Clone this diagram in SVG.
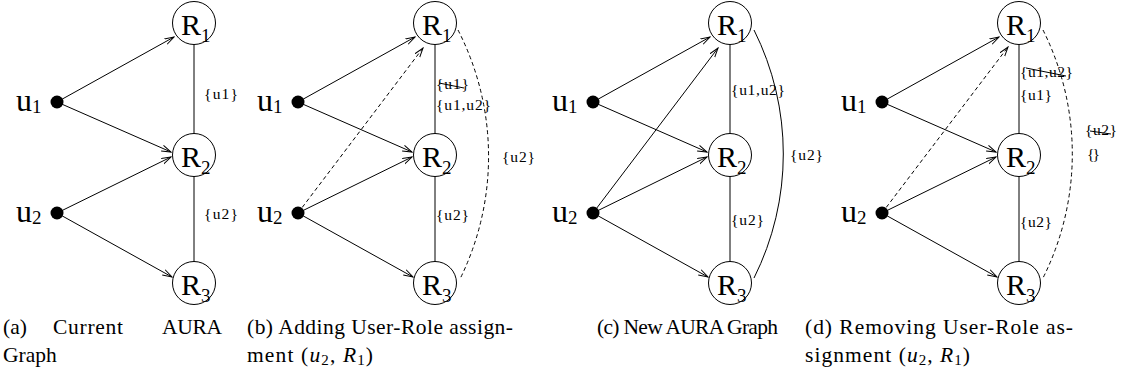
<svg xmlns="http://www.w3.org/2000/svg" width="1122" height="374" viewBox="0 0 1122 374">
<style>
.role{fill:#fff;stroke:#000;stroke-width:1}
.rl{font-family:"Liberation Serif",serif;font-size:30px;fill:#000}
.sub{font-size:19px}
.ul{font-family:"Liberation Serif",serif;font-size:32px;fill:#000}
.dot{fill:#000}
.edge{stroke:#000;stroke-width:1;fill:none}
.dash{stroke-dasharray:4 3}
.lbl{font-family:"Liberation Serif",serif;font-size:15.5px;fill:#000}
.cap{font-family:"Liberation Serif",serif;font-size:21.5px;fill:#000}
.msub{font-size:15px}
</style>
<defs>
<marker id="ah" markerWidth="11" markerHeight="8" refX="9.5" refY="3.5" orient="auto" markerUnits="userSpaceOnUse">
<path d="M0,0.5 L9.5,3.5 L0,6.5" fill="none" stroke="#000" stroke-width="1"/>
</marker>
</defs>

<!-- Panel (a) -->
<g id="panel-a">
<g id="a-connectors">
<line class="edge" x1="57" y1="102" x2="174" y2="37" marker-end="url(#ah)"/>
<line class="edge" x1="57" y1="102" x2="171" y2="152" marker-end="url(#ah)"/>
<line class="edge" x1="57" y1="213" x2="171" y2="157" marker-end="url(#ah)"/>
<line class="edge" x1="57" y1="213" x2="172" y2="277" marker-end="url(#ah)"/>
<line class="edge" x1="194" y1="42" x2="194" y2="135"/>
<line class="edge" x1="194" y1="176" x2="194" y2="263"/>
<text class="lbl" x="204" y="99" textLength="34" lengthAdjust="spacing">{u1}</text>
<text class="lbl" x="204" y="219" textLength="34" lengthAdjust="spacing">{u2}</text>
</g>
<g id="a-u1"><circle class="dot" cx="57" cy="102" r="6.5"/><text class="ul" x="16" y="111">u<tspan class="sub" dy="2">1</tspan></text></g>
<g id="a-u2"><circle class="dot" cx="57" cy="213" r="6.5"/><text class="ul" x="16" y="222">u<tspan class="sub" dy="2">2</tspan></text></g>
<g id="a-R1"><circle class="role" cx="194" cy="23" r="21.5"/><text class="rl" x="181" y="35">R<tspan class="sub" dy="7">1</tspan></text></g>
<g id="a-R2"><circle class="role" cx="194" cy="155" r="21.5"/><text class="rl" x="181" y="167">R<tspan class="sub" dy="7">2</tspan></text></g>
<g id="a-R3"><circle class="role" cx="194" cy="283" r="21.5"/><text class="rl" x="181" y="295">R<tspan class="sub" dy="7">3</tspan></text></g>
</g>

<!-- Panel (b) -->
<g id="panel-b" transform="translate(241,0)">
<g id="b-connectors">
<line class="edge" x1="57" y1="102" x2="174" y2="37" marker-end="url(#ah)"/>
<line class="edge" x1="57" y1="102" x2="171" y2="152" marker-end="url(#ah)"/>
<line class="edge" x1="57" y1="213" x2="171" y2="157" marker-end="url(#ah)"/>
<line class="edge" x1="57" y1="213" x2="172" y2="277" marker-end="url(#ah)"/>
<line class="edge dash" x1="57" y1="213" x2="182" y2="48" marker-end="url(#ah)"/>
<line class="edge" x1="194" y1="42" x2="194" y2="135"/>
<line class="edge" x1="194" y1="176" x2="194" y2="263"/>
<path class="edge dash" d="M217,30 A277,277 0 0 1 219,279"/>
<text class="lbl" x="195" y="89" textLength="33" lengthAdjust="spacing">{u1}</text>
<line class="edge" x1="198" y1="83" x2="223" y2="88"/>
<text class="lbl" x="195" y="110" textLength="55" lengthAdjust="spacing">{u1,u2}</text>
<text class="lbl" x="261" y="162" textLength="33" lengthAdjust="spacing">{u2}</text>
<text class="lbl" x="195" y="220" textLength="33" lengthAdjust="spacing">{u2}</text>
</g>
<g id="b-u1"><circle class="dot" cx="57" cy="102" r="6.5"/><text class="ul" x="16" y="111">u<tspan class="sub" dy="2">1</tspan></text></g>
<g id="b-u2"><circle class="dot" cx="57" cy="213" r="6.5"/><text class="ul" x="16" y="222">u<tspan class="sub" dy="2">2</tspan></text></g>
<g id="b-R1"><circle class="role" cx="194" cy="23" r="21.5"/><text class="rl" x="181" y="35">R<tspan class="sub" dy="7">1</tspan></text></g>
<g id="b-R2"><circle class="role" cx="194" cy="155" r="21.5"/><text class="rl" x="181" y="167">R<tspan class="sub" dy="7">2</tspan></text></g>
<g id="b-R3"><circle class="role" cx="194" cy="283" r="21.5"/><text class="rl" x="181" y="295">R<tspan class="sub" dy="7">3</tspan></text></g>
</g>

<!-- Panel (c) -->
<g id="panel-c" transform="translate(536,0)">
<g id="c-connectors">
<line class="edge" x1="57" y1="102" x2="174" y2="37" marker-end="url(#ah)"/>
<line class="edge" x1="57" y1="102" x2="171" y2="152" marker-end="url(#ah)"/>
<line class="edge" x1="57" y1="213" x2="171" y2="157" marker-end="url(#ah)"/>
<line class="edge" x1="57" y1="213" x2="172" y2="277" marker-end="url(#ah)"/>
<line class="edge" x1="57" y1="213" x2="182" y2="48" marker-end="url(#ah)"/>
<line class="edge" x1="194" y1="42" x2="194" y2="135"/>
<line class="edge" x1="194" y1="176" x2="194" y2="263"/>
<path class="edge" d="M218,30 A277,277 0 0 1 218,278"/>
<text class="lbl" x="195" y="95" textLength="54" lengthAdjust="spacing">{u1,u2}</text>
<text class="lbl" x="254" y="160" textLength="33" lengthAdjust="spacing">{u2}</text>
<text class="lbl" x="195" y="225" textLength="33" lengthAdjust="spacing">{u2}</text>
</g>
<g id="c-u1"><circle class="dot" cx="57" cy="102" r="6.5"/><text class="ul" x="16" y="111">u<tspan class="sub" dy="2">1</tspan></text></g>
<g id="c-u2"><circle class="dot" cx="57" cy="213" r="6.5"/><text class="ul" x="16" y="222">u<tspan class="sub" dy="2">2</tspan></text></g>
<g id="c-R1"><circle class="role" cx="194" cy="23" r="21.5"/><text class="rl" x="181" y="35">R<tspan class="sub" dy="7">1</tspan></text></g>
<g id="c-R2"><circle class="role" cx="194" cy="155" r="21.5"/><text class="rl" x="181" y="167">R<tspan class="sub" dy="7">2</tspan></text></g>
<g id="c-R3"><circle class="role" cx="194" cy="283" r="21.5"/><text class="rl" x="181" y="295">R<tspan class="sub" dy="7">3</tspan></text></g>
</g>

<!-- Panel (d) -->
<g id="panel-d" transform="translate(825,0)">
<g id="d-connectors">
<line class="edge" x1="57" y1="102" x2="174" y2="37" marker-end="url(#ah)"/>
<line class="edge" x1="57" y1="102" x2="171" y2="152" marker-end="url(#ah)"/>
<line class="edge" x1="57" y1="213" x2="171" y2="157" marker-end="url(#ah)"/>
<line class="edge" x1="57" y1="213" x2="172" y2="277" marker-end="url(#ah)"/>
<line class="edge dash" x1="57" y1="213" x2="183" y2="47" marker-end="url(#ah)"/>
<line class="edge" x1="194" y1="42" x2="194" y2="135"/>
<line class="edge" x1="194" y1="176" x2="194" y2="263"/>
<path class="edge dash" d="M218,30 A277,277 0 0 1 218,278"/>
<text class="lbl" x="195" y="77" textLength="53" lengthAdjust="spacing">{u1,u2}</text>
<line class="edge" x1="201" y1="68" x2="241" y2="76"/>
<text class="lbl" x="195" y="100" textLength="32" lengthAdjust="spacing">{u1}</text>
<text class="lbl" x="260" y="135" textLength="32" lengthAdjust="spacing">{u2}</text>
<line class="edge" x1="265" y1="131" x2="286" y2="134"/>
<text class="lbl" x="262" y="159" textLength="13" lengthAdjust="spacing">{}</text>
<text class="lbl" x="195" y="227" textLength="32" lengthAdjust="spacing">{u2}</text>
</g>
<g id="d-u1"><circle class="dot" cx="57" cy="102" r="6.5"/><text class="ul" x="16" y="111">u<tspan class="sub" dy="2">1</tspan></text></g>
<g id="d-u2"><circle class="dot" cx="57" cy="213" r="6.5"/><text class="ul" x="16" y="222">u<tspan class="sub" dy="2">2</tspan></text></g>
<g id="d-R1"><circle class="role" cx="194" cy="23" r="21.5"/><text class="rl" x="181" y="35">R<tspan class="sub" dy="7">1</tspan></text></g>
<g id="d-R2"><circle class="role" cx="194" cy="155" r="21.5"/><text class="rl" x="181" y="167">R<tspan class="sub" dy="7">2</tspan></text></g>
<g id="d-R3"><circle class="role" cx="194" cy="283" r="21.5"/><text class="rl" x="181" y="295">R<tspan class="sub" dy="7">3</tspan></text></g>
</g>

<!-- Captions -->
<g id="captions">
<text class="cap" x="3" y="334">(a)</text>
<text class="cap" x="53" y="334" textLength="70" lengthAdjust="spacing">Current</text>
<text class="cap" x="162" y="334" textLength="60" lengthAdjust="spacing">AURA</text>
<text class="cap" x="3" y="362">Graph</text>
<text class="cap" x="247" y="334" textLength="266" lengthAdjust="spacing">(b) Adding User-Role assign-</text>
<text class="cap" x="247" y="362" textLength="126" lengthAdjust="spacing">ment (<tspan font-style="italic">u</tspan><tspan class="msub" dy="3">2</tspan><tspan dy="-3">, </tspan><tspan font-style="italic">R</tspan><tspan class="msub" dy="3">1</tspan><tspan dy="-3">)</tspan></text>
<text class="cap" x="597" y="334" textLength="181" lengthAdjust="spacing">(c) New AURA Graph</text>
<text class="cap" x="805" y="334" textLength="268" lengthAdjust="spacing">(d) Removing User-Role as-</text>
<text class="cap" x="805" y="362" textLength="165" lengthAdjust="spacing">signment (<tspan font-style="italic">u</tspan><tspan class="msub" dy="3">2</tspan><tspan dy="-3">, </tspan><tspan font-style="italic">R</tspan><tspan class="msub" dy="3">1</tspan><tspan dy="-3">)</tspan></text>
</g>
</svg>
